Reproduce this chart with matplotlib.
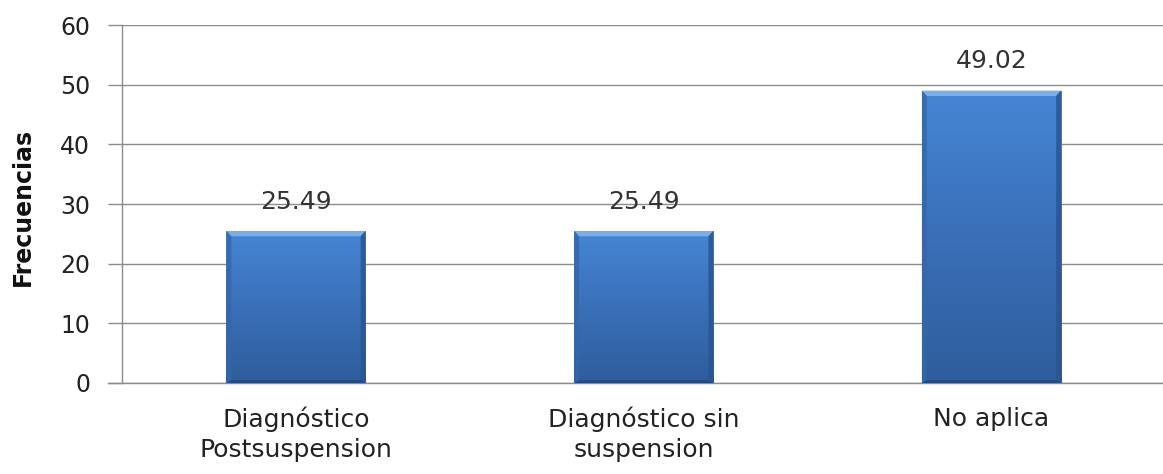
import numpy as np
import matplotlib
matplotlib.use("Agg")
import matplotlib.pyplot as plt
from matplotlib.colors import LinearSegmentedColormap
from matplotlib.patches import Polygon

categories = ["Diagnóstico\nPostsuspension", "Diagnóstico sin\nsuspension", "No aplica"]
values = [25.49, 25.49, 49.02]
value_labels = ["25.49", "25.49", "49.02"]
yticks = [0, 10, 20, 30, 40, 50, 60]

fig = plt.figure(figsize=(11.63, 4.74), dpi=100)
ax = fig.add_axes([0.105, 0.192, 0.897, 0.755])

x = np.arange(len(categories))
bar_w = 0.40
bars = ax.bar(x, values, width=bar_w, color="none", edgecolor="none", zorder=3)

# vertical gradient fill with a light bevel on top and darker sides
grad = LinearSegmentedColormap.from_list("bluegrad", ["#2e5d9c", "#3a70b8", "#4686d4"])
gimg = np.linspace(0, 1, 256).reshape(-1, 1)
for b in bars:
    x0, y0 = b.get_x(), b.get_y()
    w, h = b.get_width(), b.get_height()
    im = ax.imshow(gimg, cmap=grad, origin="lower", aspect="auto",
                   extent=[x0, x0 + w, y0, y0 + h], zorder=3)
    im.set_clip_path(b)
    bw = w * 0.035
    bh = 0.9
    # top bevel
    ax.add_patch(Polygon([[x0, y0 + h], [x0 + w, y0 + h], [x0 + w - bw, y0 + h - bh],
                          [x0 + bw, y0 + h - bh]], closed=True,
                         facecolor="#78aeea", edgecolor="none", zorder=4))
    # left bevel
    ax.add_patch(Polygon([[x0, y0], [x0, y0 + h], [x0 + bw, y0 + h - bh],
                          [x0 + bw, y0 + bh * 0.5]], closed=True,
                         facecolor="#3566a8", edgecolor="none", alpha=0.8, zorder=4))
    # right bevel
    ax.add_patch(Polygon([[x0 + w, y0], [x0 + w, y0 + h], [x0 + w - bw, y0 + h - bh],
                          [x0 + w - bw, y0 + bh * 0.5]], closed=True,
                         facecolor="#2a5590", edgecolor="none", alpha=0.85, zorder=4))
    # bottom bevel
    ax.add_patch(Polygon([[x0, y0], [x0 + w, y0], [x0 + w - bw, y0 + bh * 0.5],
                          [x0 + bw, y0 + bh * 0.5]], closed=True,
                         facecolor="#24497d", edgecolor="none", zorder=4))

for xi, v, lab in zip(x, values, value_labels):
    ax.text(xi, v + 4.9, lab, ha="center", va="center", fontsize=18,
            color="#333333", family="DejaVu Sans", zorder=5)

ax.set_xlim(-0.5, len(categories) - 0.5)
ax.set_ylim(0, 60)
ax.set_yticks(yticks)
ax.yaxis.grid(True, color="#8c8c8c", linewidth=1.0, zorder=0)
ax.set_axisbelow(True)
ax.set_xticks(x)
ax.set_xticklabels(categories, fontsize=18, color="#222222", linespacing=1.3)
ax.tick_params(axis="x", length=0, pad=17)
ax.tick_params(axis="y", length=10, width=1.0, color="#8c8c8c", labelsize=17,
               labelcolor="#222222", pad=13)

for s in ["top", "right"]:
    ax.spines[s].set_visible(False)
ax.spines["left"].set_color("#8c8c8c")
ax.spines["bottom"].set_color("#8c8c8c")
ax.spines["left"].set_linewidth(1.0)
ax.spines["bottom"].set_linewidth(1.0)
ax.spines["bottom"].set_bounds(-0.5 - 14 / 347.5, len(categories) - 0.5)

ax.set_ylabel("Frecuencias", fontsize=17, fontweight="bold",
              family="DejaVu Sans", color="#111111")
ax.yaxis.set_label_coords((23 - 122) / (0.897 * 1163), (383 - 207) / (0.755 * 474))
ax.yaxis.label.set_va("center")

fig.savefig("out.png", dpi=100, facecolor="white")
